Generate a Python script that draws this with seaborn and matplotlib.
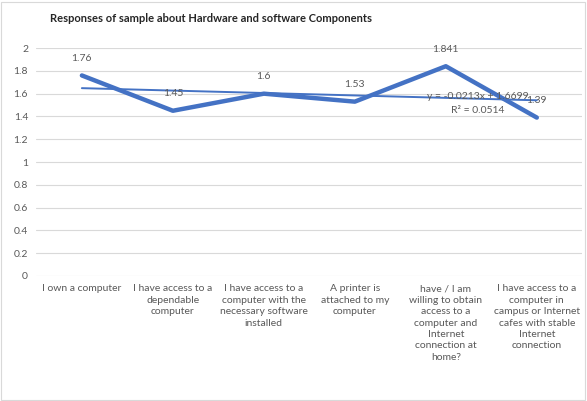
import numpy as np
import pandas as pd
import matplotlib
matplotlib.use("Agg")
import matplotlib.pyplot as plt
import seaborn as sns

# -----------------------------
# DATA
# -----------------------------
categories = [
    "I own a computer",
    "I have access to a\ndependable\ncomputer",
    "I have access to a\ncomputer with the\nnecessary software\ninstalled",
    "A printer is\nattached to my\ncomputer",
    "have / I am\nwilling to obtain\naccess to a\ncomputer and\nInternet\nconnection at\nhome?",
    "I have access to a\ncomputer in\ncampus or Internet\ncafes with stable\nInternet\nconnection",
]
values = [1.76, 1.45, 1.6, 1.53, 1.841, 1.39]
value_labels = ["1.76", "1.45", "1.6", "1.53", "1.841", "1.39"]
y_ticks = [0, 0.2, 0.4, 0.6, 0.8, 1, 1.2, 1.4, 1.6, 1.8, 2]
y_tick_labels = ["0", "0.2", "0.4", "0.6", "0.8", "1", "1.2", "1.4", "1.6", "1.8", "2"]

df = pd.DataFrame({"pos": np.arange(len(values)), "value": values})

# linear trendline (excel style, x = 1..n)
slope, intercept = np.polyfit(np.arange(1, len(values) + 1), values, 1)
trend = slope * np.arange(1, len(values) + 1) + intercept

# -----------------------------
# PLOT
# -----------------------------
sns.set_theme(style="white")
plt.rcParams["font.family"] = ["Lato", "DejaVu Sans"]

BLUE = "#4472C4"
TEXT = "#595959"

fig = plt.figure(figsize=(5.87, 4.01), dpi=100)
ax = fig.add_axes([0.062, 0.312, 0.93, 0.568])

ax.set_yticks(y_ticks)
ax.yaxis.grid(True, color="#d9d9d9", linewidth=0.8)
ax.set_axisbelow(True)

sns.lineplot(data=df, x="pos", y="value", color=BLUE, linewidth=3.2, ax=ax)
ax.plot(df["pos"], trend, color=BLUE, linewidth=1.4)

for x, y, lab in zip(df["pos"], values, value_labels):
    ax.annotate(lab, (x, y), xytext=(0, 9), textcoords="offset points",
                ha="center", va="bottom", fontsize=7.5, color=TEXT)

ax.text(4.35, 1.575, f"y = {slope:.4f}x + {intercept:.4f}", ha="center", va="center",
        fontsize=7.5, color=TEXT)
ax.text(4.35, 1.45, "R² = 0.0514", ha="center", va="center", fontsize=7.5, color=TEXT)

ax.set_xlim(-0.5, len(values) - 0.5)
ax.set_ylim(0, 2)
ax.set_yticklabels(y_tick_labels, fontsize=7.5, color=TEXT)
ax.set_xticks(df["pos"])
ax.set_xticklabels(categories, fontsize=7.5, color=TEXT, va="top", linespacing=1.35)
ax.tick_params(axis="both", length=0, pad=6)
ax.set_xlabel("")
ax.set_ylabel("")
for s in ax.spines.values():
    s.set_visible(False)

fig.text(0.36, 0.955, "Responses of sample about Hardware and software Components",
         ha="center", va="center", fontsize=8, fontweight="bold", color="#262626")

fig.patches.append(plt.Rectangle((0.002, 0.002), 0.994, 0.994, transform=fig.transFigure,
                                 fill=False, edgecolor="#d9d9d9", linewidth=0.8))

fig.savefig("out.png", dpi=100)
plt.close()
